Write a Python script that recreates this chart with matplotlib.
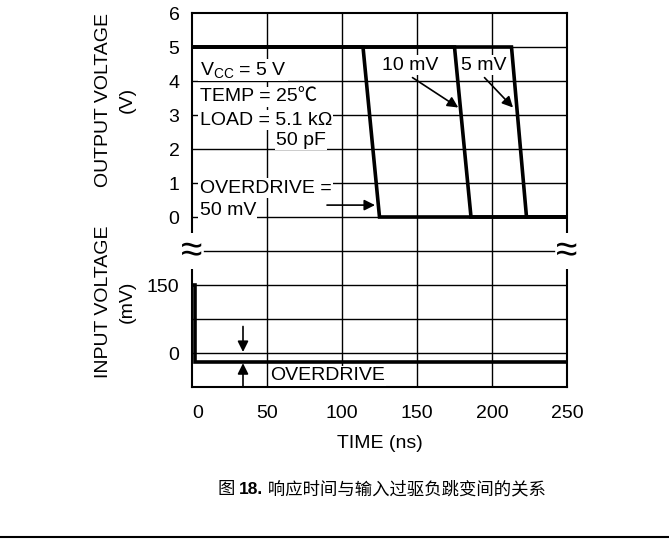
import matplotlib
matplotlib.use("Agg")
import matplotlib.pyplot as plt
import matplotlib.transforms as mtransforms
import numpy as np

plt.rcParams['font.family'] = ['Liberation Sans', 'Noto Sans CJK SC', 'DejaVu Sans']
plt.rcParams['mathtext.fontset'] = 'custom'
plt.rcParams['mathtext.rm'] = 'Liberation Sans'
plt.rcParams['mathtext.it'] = 'Liberation Sans'

# ---- data ----
t_50mv = [0, 114, 125, 250]
v_50mv = [5, 5, 0, 0]
t_10mv = [0, 175, 186, 250]
v_10mv = [5, 5, 0, 0]
t_5mv = [0, 213, 223, 250]
v_5mv = [5, 5, 0, 0]
t_input = [0, 2, 2, 250]
mv_input = [150, 150, -20, -20]

x_ticks = [0, 50, 100, 150, 200, 250]
out_ticks = [0, 1, 2, 3, 4, 5, 6]
in_ticks = [0, 150]


# the chart stacks two scales on one grid of 11 rows
def out_row(v):
    return np.asarray(v, float) + 5


def in_row(mv):
    return 1 + np.asarray(mv, float) / 75.0


W, H = 669, 540
fig = plt.figure(figsize=(W / 100, H / 100), dpi=100)
ax = fig.add_axes([192 / W, (H - 387) / H, 375 / W, 374 / H])
ax.set_xlim(0, 250)
ax.set_ylim(0, 11)

# grid
for r in [1, 2, 3, 5, 6, 7, 8, 9, 10]:
    ax.axhline(r, color='black', lw=1.0, zorder=1)
ax.plot([8, 241], [4, 4], color='black', lw=1.0, zorder=1)
for x in [50, 100, 150, 200]:
    ax.axvline(x, color='black', lw=1.0, zorder=1)
for s in ax.spines.values():
    s.set_linewidth(1.5)

# signals
sig = dict(color='black', lw=2.6, zorder=4, solid_joinstyle='miter')
ax.plot(t_50mv, out_row(v_50mv), **sig)
ax.plot(t_10mv, out_row(v_10mv), **sig)
ax.plot(t_5mv, out_row(v_5mv), **sig)
ax.plot(t_input, in_row(mv_input), **sig)

fs = 14
# ticks
yt = list(out_row(out_ticks)) + list(in_row(in_ticks))
yl = [str(v) for v in out_ticks] + [str(v) for v in in_ticks]
ax.set_yticks(yt)
ax.set_yticklabels(yl)
ax.set_xticks(x_ticks)
ax.tick_params(axis='both', length=0, labelsize=fs)
ax.tick_params(axis='y', pad=9)
ax.tick_params(axis='x', pad=13)
ax.set_xlabel('TIME (ns)', fontsize=fs, labelpad=9)
# the "0" label sits a little right of the axis in the original
lab0 = ax.xaxis.get_major_ticks()[0].label1
lab0.set_transform(lab0.get_transform() + mtransforms.ScaledTranslation(6 / 100, 0, fig.dpi_scale_trans))

box = dict(facecolor='white', edgecolor='none', pad=1.0)
ax.text(5, 9.32, r'V$_{\rm CC}$ = 5 V', fontsize=fs, va='center', ha='left', bbox=box, zorder=5)
ax.text(5, 8.53, 'TEMP = 25℃', fontsize=fs, va='center', ha='left', bbox=box, zorder=5)
ax.text(5, 7.85, 'LOAD = 5.1 kΩ', fontsize=fs, va='center', ha='left', bbox=box, zorder=5)
ax.text(56, 7.26, '50 pF', fontsize=fs, va='center', ha='left', bbox=box, zorder=5)
ax.text(5, 5.85, 'OVERDRIVE =', fontsize=fs, va='center', ha='left', bbox=box, zorder=5)
ax.text(5, 5.18, '50 mV', fontsize=fs, va='center', ha='left', bbox=box, zorder=5)
ax.text(127, 9.47, '10 mV', fontsize=fs, va='center', ha='left', bbox=box, zorder=5)
ax.text(179.5, 9.47, '5 mV', fontsize=fs, va='center', ha='left', bbox=box, zorder=3)
ax.text(52, 0.33, 'OVERDRIVE', fontsize=fs, va='center', ha='left', bbox=box, zorder=5)

arr = dict(arrowstyle='-|>', color='black', lw=1.2, mutation_scale=16, shrinkA=0, shrinkB=0)
ax.annotate('', xy=(122, 5.35), xytext=(90, 5.35), arrowprops=arr, zorder=6)
ax.annotate('', xy=(177.5, 8.22), xytext=(147, 9.1), arrowprops=arr, zorder=6)
ax.annotate('', xy=(214, 8.22), xytext=(195, 9.1), arrowprops=arr, zorder=6)
ax.annotate('', xy=(34, 1.03), xytext=(34, 1.78), arrowprops=arr, zorder=6)
ax.annotate('', xy=(34, 0.7), xytext=(34, 0.0), arrowprops=arr, zorder=6)

# axis break marks
wbox = dict(facecolor='white', edgecolor='none', pad=0)
ax.text(0, 4, '≈', fontsize=28, ha='center', va='center', bbox=wbox, zorder=7, clip_on=False)
ax.text(250, 4, '≈', fontsize=28, ha='center', va='center', bbox=wbox, zorder=7, clip_on=False)

# y axis titles
fig.text(103 / W, 1 - 100 / H, 'OUTPUT VOLTAGE', rotation=90, ha='center', va='center', fontsize=fs)
fig.text(127 / W, 1 - 100 / H, '(V)', rotation=90, ha='center', va='center', fontsize=fs)
fig.text(103 / W, 1 - 302 / H, 'INPUT VOLTAGE', rotation=90, ha='center', va='center', fontsize=fs)
fig.text(127 / W, 1 - 302 / H, '(mV)', rotation=90, ha='center', va='center', fontsize=fs)

# caption: three pieces on one baseline, the figure number in bold
cap_fs = 12.5
cjk = ['Noto Sans CJK SC', 'DejaVu Sans']
base = 1 - 494 / H
t1 = fig.text(218 / W, base, '图 ', fontsize=cap_fs, ha='left', va='baseline', family=cjk)
t2 = fig.text(0, base, '18.', fontsize=cap_fs, fontweight='bold', ha='left', va='baseline')
t3 = fig.text(0, base, ' 响应时间与输入过驱负跳变间的关系', fontsize=cap_fs, ha='left', va='baseline', family=cjk)
fig.canvas.draw()
r = fig.canvas.get_renderer()
t2.set_x(t1.get_window_extent(r).x1 / W)
fig.canvas.draw()
t3.set_x(t2.get_window_extent(r).x1 / W)

fig.add_artist(plt.Line2D([0, 1], [1 - 537 / H, 1 - 537 / H], color='black', lw=1.5))

fig.savefig('out.png', dpi=100)
